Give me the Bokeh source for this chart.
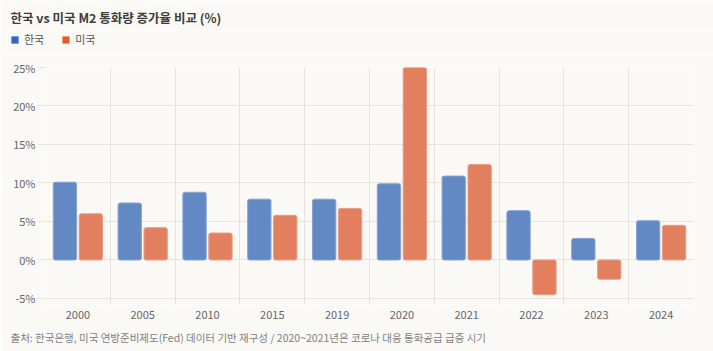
import numpy as np
from bokeh.plotting import figure
from bokeh.layouts import column
from bokeh.models import (ColumnDataSource, FixedTicker, Legend, LegendItem, Title, Range1d)
from bokeh.transform import dodge
from bokeh.embed import file_html
from bokeh.resources import INLINE

years = ["2000", "2005", "2010", "2015", "2019", "2020", "2021", "2022", "2023", "2024"]
korea = [10.1, 7.4, 8.8, 7.9, 7.9, 9.9, 10.9, 6.4, 2.8, 5.1]
usa = [6.0, 4.2, 3.5, 5.8, 6.7, 25.0, 12.4, -4.5, -2.5, 4.5]
y_ticks = [-5, 0, 5, 10, 15, 20, 25]

KFONT = "Noto Sans CJK KR"
BG = "#faf9f6"
GRID = "#e6e3de"
BLUE = "#2d68c0"
ORANGE = "#e75a2a"
BLUE_BAR = "#6389c4"
ORANGE_BAR = "#e27f5f"

idx = np.arange(len(years)) + 0.5
src = ColumnDataSource(dict(x=idx, korea=korea, usa=usa, year=years))

# ---------- header: title + legend ----------
h = figure(width=713, height=55, output_backend="svg", toolbar_location=None,
           x_axis_type=None, y_axis_type=None,
           background_fill_color=BG, border_fill_color=BG,
           min_border_left=0, min_border_right=0, min_border_top=0, min_border_bottom=0)
h.outline_line_color = None
h.grid.visible = False

can_unalign = "frame_align" in h.properties()
if can_unalign:
    h.frame_align = False
    left_off = 10
else:
    left_off = -35

h.title.text = "한국 vs 미국 M2 통화량 증가율 비교 (%)"
h.title.text_font = KFONT
h.title.text_font_size = "12.5px"
h.title.text_font_style = "bold"
h.title.text_color = "#3d3d3d"
h.title.offset = left_off

lk = h.vbar(x="x", top=0, bottom=0, width=0.3, source=src, fill_color=BLUE, line_color=None)
lu = h.vbar(x="x", top=0, bottom=0, width=0.3, source=src, fill_color=ORANGE, line_color=None)
legend = Legend(items=[LegendItem(label="한국", renderers=[lk]), LegendItem(label="미국", renderers=[lu])],
                orientation="horizontal", location=(10 if can_unalign else 0, 8),
                background_fill_alpha=0, border_line_color=None,
                glyph_width=9, glyph_height=9, label_text_font=KFONT, label_text_font_size="11px",
                label_text_color="#555555", label_standoff=5, spacing=17, padding=0, margin=0)
h.add_layout(legend, "center")

# ---------- main chart ----------
# y range slightly below -5% so the vertical grid lines run past the last gridline (tick extension)
p = figure(width=713, height=296, output_backend="svg", toolbar_location=None, title=None,
           x_range=Range1d(0, len(years)), y_range=Range1d(-5.78, 25),
           background_fill_color=BG, border_fill_color=BG,
           min_border_left=45, min_border_right=20, min_border_top=12, min_border_bottom=47)
p.outline_line_color = None

p.vbar(x=dodge("x", -0.2, range=p.x_range), top="korea", bottom=0, width=0.36, source=src,
       fill_color=BLUE_BAR, line_color="#86a3d2", line_width=1, border_radius=2)
p.vbar(x=dodge("x", 0.2, range=p.x_range), top="usa", bottom=0, width=0.36, source=src,
       fill_color=ORANGE_BAR, line_color="#eb9c82", line_width=1, border_radius=2)

foot = Title(text="출처: 한국은행, 미국 연방준비제도(Fed) 데이터 기반 재구성 / 2020~2021년은 코로나 대응 통화공급 급증 시기",
             text_font=KFONT, text_font_size="10.5px", text_font_style="normal", text_color="#808080",
             offset=-35, standoff=12)
p.add_layout(foot, "below")

# grids
p.xgrid.ticker = FixedTicker(ticks=list(range(len(years) + 1)))
p.xgrid.grid_line_color = GRID
p.ygrid.ticker = FixedTicker(ticks=y_ticks)
p.ygrid.grid_line_color = GRID

# y axis
p.yaxis.ticker = FixedTicker(ticks=y_ticks)
p.yaxis.major_label_overrides = {v: f"{v}%" for v in y_ticks}
p.yaxis.axis_line_color = None
p.yaxis.major_tick_line_color = GRID
p.yaxis.major_tick_in = 0
p.yaxis.major_tick_out = 8
p.yaxis.minor_tick_line_color = None
p.yaxis.major_label_standoff = 2
p.yaxis.major_label_text_font = KFONT
p.yaxis.major_label_text_font_size = "11px"
p.yaxis.major_label_text_color = "#666666"

# x axis: labels at category centres
p.xaxis.ticker = FixedTicker(ticks=list(idx))
p.xaxis.major_label_overrides = {float(v): y for v, y in zip(idx, years)}
p.xaxis.axis_line_color = None
p.xaxis.major_tick_line_color = None
p.xaxis.minor_tick_line_color = None
p.xaxis.major_label_standoff = 0
p.xaxis.major_label_text_font = KFONT
p.xaxis.major_label_text_font_size = "11px"
p.xaxis.major_label_text_color = "#666666"

layout = column(h, p, spacing=0)
open("out.html", "w").write(file_html(layout, INLINE))
